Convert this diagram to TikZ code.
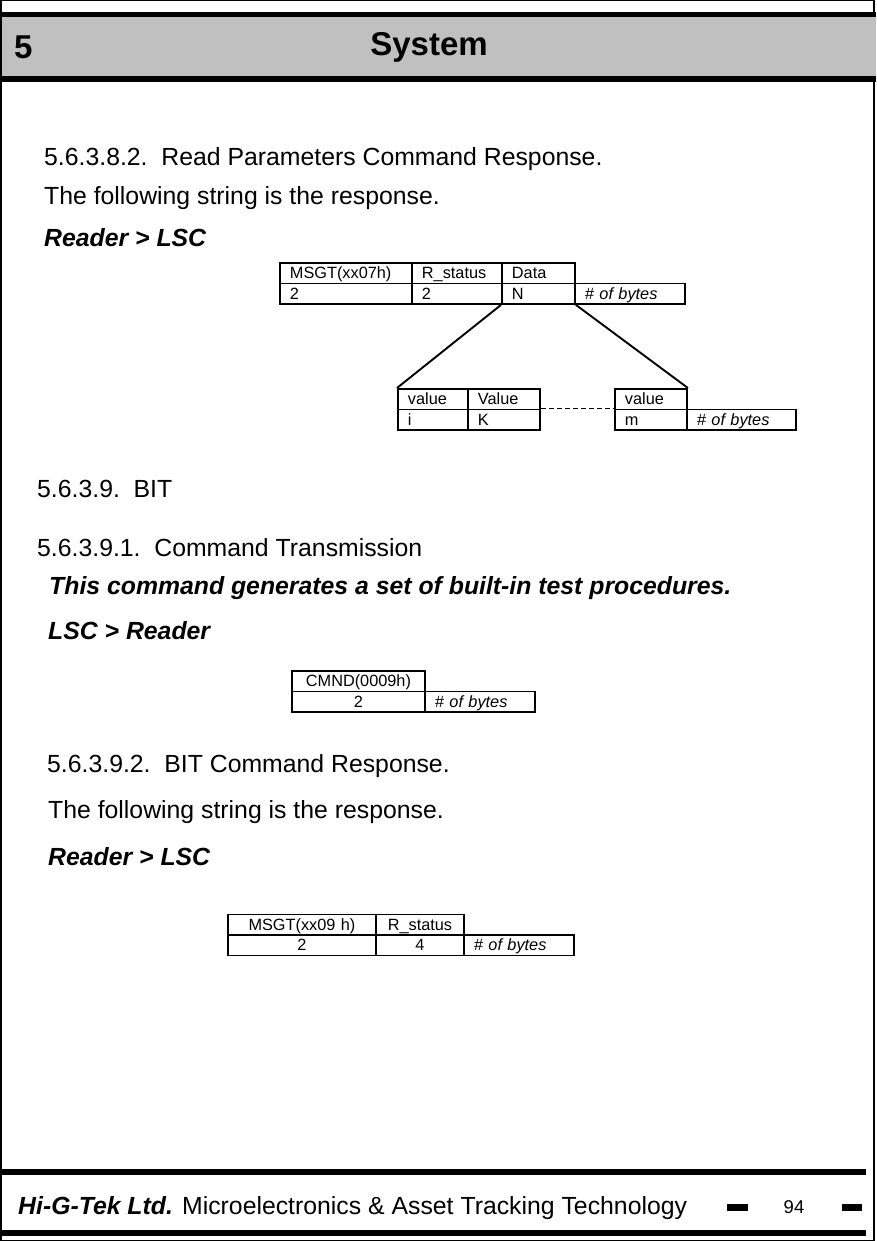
\documentclass[tikz,border=0pt]{standalone}
\usepackage{fontspec}
\setmainfont{Liberation Sans}
\definecolor{bandgray}{HTML}{C0C0C0}
\begin{document}
\begin{tikzpicture}[x=1pt,y=-1pt,
  txt/.style={inner sep=0pt, anchor=base west, font=\fontsize{24.8}{30}\selectfont},
  btxt/.style={inner sep=0pt, anchor=base west, font=\fontsize{24.8}{30}\selectfont\bfseries\itshape},
  cell/.style={draw=black, line width=1.9pt, anchor=north west, inner xsep=10pt, inner ysep=0pt,
    minimum height=20.5pt, text height=13pt, text depth=2pt, font=\fontsize{16.3}{18}\selectfont, align=left},
  ccell/.style={cell, align=center},
  link/.style={line width=1.9pt, draw=black},
  thick bar/.style={line width=6pt, draw=black},
]
\useasboundingbox (0,0) rectangle (876,1241);
% page frame
\draw[line width=1.2pt] (1,0.6) rectangle (874,1240.4);
% header
\fill[bandgray] (2,17.5) rectangle (876,76);
\draw[thick bar, line width=5.5pt] (2,14.75) -- (876,14.75);
\draw[thick bar] (2,79) -- (876,79);
\node[inner sep=0pt, anchor=base west, font=\fontsize{33}{36}\selectfont\bfseries] (hnum) at (14,59) {5};
\node[inner sep=0pt, anchor=base, font=\fontsize{33}{36}\selectfont\bfseries] (htitle) at (429,56) {System};

% section 5.6.3.8.2
\node[txt] (t1) at (44,166) {5.6.3.8.2.\ \ Read Parameters Command Response.};
\node[txt] (t2) at (44,205) {The following string is the response.};
\node[btxt] (t3) at (44,247) {Reader > LSC};

\node[cell, text width=112pt] (a1) at (279,262) {MSGT(xx07h)};
\node[cell, text width=70pt] (a2) at (411,262) {R\_status};
\node[cell, text width=53pt] (a3) at (501,262) {Data};
\node[cell, text width=112pt] (b1) at (279,282.5) {2};
\node[cell, text width=70pt] (b2) at (411,282.5) {2};
\node[cell, text width=53pt] (b3) at (501,282.5) {N};
\node[cell, text width=90pt] (b4) at (574,282.5) {\itshape \# of bytes};

\node[cell, text width=50pt] (c1) at (397,388) {value};
\node[cell, text width=52pt] (c2) at (467,388) {Value};
\node[cell, text width=52pt] (c3) at (614,388) {value};
\node[cell, text width=50pt] (d1) at (397,408.5) {i};
\node[cell, text width=52pt] (d2) at (467,408.5) {K};
\node[cell, text width=52pt] (d3) at (614,408.5) {m};
\node[cell, text width=89pt] (d4) at (686,408.5) {\itshape \# of bytes};

\draw[link] (b3.south west) -- (c1.north west);
\draw[link] (b3.south east) -- (c3.north east);
\draw[link, dash pattern=on 5pt off 3pt] (d2.north east) -- (d3.north west);

% section 5.6.3.9
\node[txt] (t4) at (37,497) {5.6.3.9.\ \ BIT};
\node[txt] (t5) at (37,556) {5.6.3.9.1.\ \ Command Transmission};
\node[btxt] (t6) at (49,594) {This command generates a set of built-in test procedures.};
\node[btxt] (t7) at (48,639) {LSC > Reader};

\node[ccell, text width=113pt] (e1) at (291,670) {CMND(0009h)};
\node[ccell, text width=113pt] (f1) at (291,690.5) {2};
\node[cell, text width=90pt] (f2) at (424,690.5) {\itshape \# of bytes};

% section 5.6.3.9.2
\node[txt] (t8) at (47,772) {5.6.3.9.2.\ \ BIT Command Response.};
\node[txt] (t9) at (48,818) {The following string is the response.};
\node[btxt] (t10) at (48,865) {Reader > LSC};

\node[ccell, text width=128pt] (g1) at (227,913.5) {MSGT(xx09 h)};
\node[ccell, text width=68pt] (g2) at (375,913.5) {R\_status};
\node[ccell, text width=128pt] (h1) at (227,934) {2};
\node[ccell, text width=68pt] (h2) at (375,934) {4};
\node[cell, text width=90pt] (h3) at (463,934) {\itshape \# of bytes};

% footer
\draw[thick bar] (2,1172) -- (866,1172);
\draw[thick bar] (2,1233) -- (866,1233);
\node[txt] (foot) at (18,1214) {{\bfseries\itshape Hi-G-Tek Ltd.} Microelectronics \& Asset Tracking Technology};
\fill[black] (727,1203.5) rectangle (748,1210.5);
\fill[black] (842,1203.5) rectangle (862,1210.5);
\node[inner sep=0pt, anchor=base, font=\fontsize{18.5}{20}\selectfont] (pnum) at (794,1213) {94};
\end{tikzpicture}
\end{document}
